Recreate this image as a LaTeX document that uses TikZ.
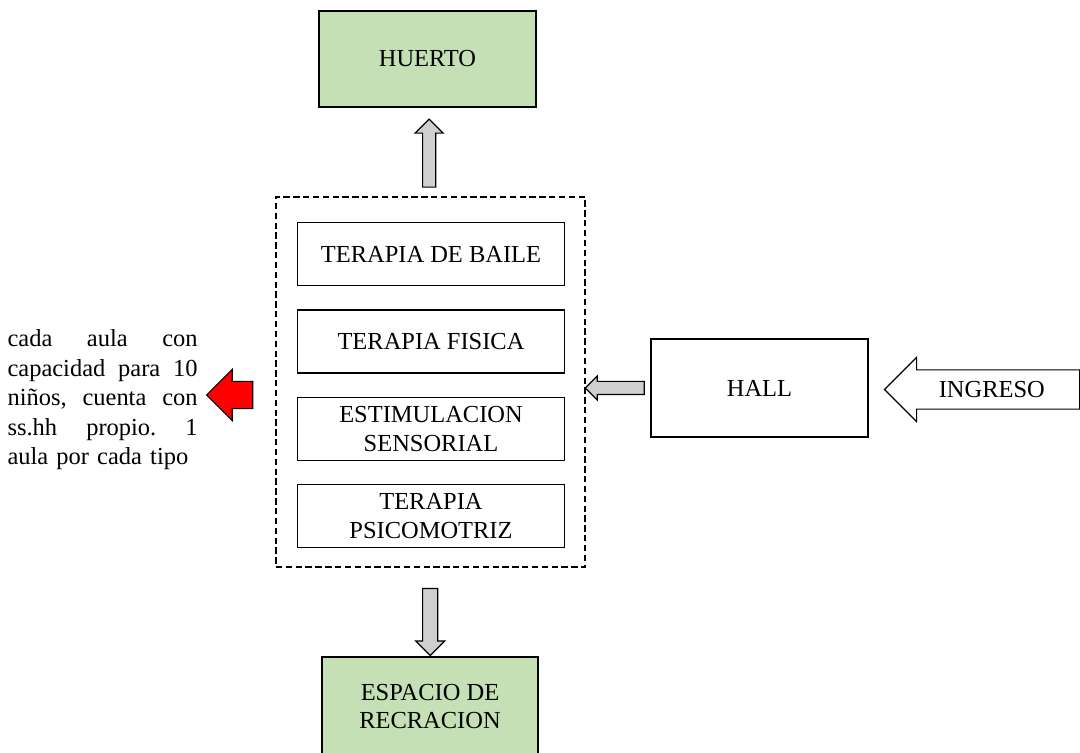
\documentclass[tikz,border=0pt]{standalone}
\usepackage{fontspec}
\setmainfont{Liberation Serif}
\usepackage{xcolor}
\usetikzlibrary{positioning, calc, shapes.arrows}
\definecolor{verde}{HTML}{C5E0B4}
\definecolor{gris}{HTML}{D0CECE}

\begin{document}
\begin{tikzpicture}[
  x=0.025cm, y=-0.025cm,
  node distance=0.575cm,
  zona/.style={draw, line width=1pt, align=center, minimum width=5.425cm, minimum height=2.4cm, fill=verde},
  aula/.style={draw, line width=1pt, align=center, minimum width=6.675cm, minimum height=1.575cm},
  flecha/.style={single arrow, draw, line width=0.8pt, fill=gris, inner sep=0.15cm, single arrow head extend=0.19cm},
  font=\fontsize{17.4}{20.5}\selectfont
]
\useasboundingbox (0,0) rectangle (1080,753);
\node[zona] (huerto) at (427.5,59) {HUERTO};
\node[draw, line width=1pt, dash pattern=on 4.5pt off 2.5pt, minimum width=7.725cm, minimum height=9.25cm] (sala) at (430.5,382) {};
\node[aula] (baile) at (431,254) {TERAPIA DE BAILE};
\node[aula, below=of baile] (fisica) {TERAPIA FISICA};
\node[aula, below=of fisica] (sensorial) {ESTIMULACION\\SENSORIAL};
\node[aula, below=of sensorial] (psico) {TERAPIA\\PSICOMOTRIZ};
\node[draw, line width=1pt, minimum width=5.425cm, minimum height=2.45cm] (hall) at (759.5,388) {HALL};
\node[zona, minimum width=5.4cm, minimum height=2.475cm] (recreacion) at (430,706.5) {ESPACIO DE\\RECRACION};

% flechas de bloque
\node[flecha, shape border rotate=90, minimum height=1.7cm, single arrow head extend=0.1875cm] (subir) at ($(huerto.south)!0.55!(sala.north)$) {};
\node[flecha, shape border rotate=270, minimum height=1.675cm, inner sep=0.175cm, single arrow head extend=0.175cm] (bajar) at ($(sala.south)!0.57!(recreacion.north)$) {};
\node[flecha, shape border rotate=180, minimum height=1.475cm, single arrow head extend=0.1375cm] (entrar) at ($(sala.east |- hall.west)!0.5!(hall.west)$) {};
\node[flecha, shape border rotate=180, fill=white, minimum height=4.875cm, text height=0.4cm, text depth=0cm, inner ysep=0.275cm, inner xsep=0.2cm, single arrow head extend=0.3125cm, anchor=tip] (ingreso) at ($(hall.east)+(15,1.5)$) {INGRESO};
\node[flecha, fill=red, shape border rotate=180, minimum height=1.15cm, inner sep=0.325cm, single arrow head extend=0.3cm, anchor=tail] (aviso) at ($(sala.west)+(-22,13)$) {};

\node[anchor=east, inner sep=0, text width=4.75cm, align=left, font=\fontsize{17.4}{21}\selectfont] (nota) at ($(aviso.tip)+(-8,5)$)
  {cada\hfill aula\hfill con\\
   capacidad\hfill para\hfill 10\\
   niños,\hfill cuenta\hfill con\\
   ss.hh\hfill propio.\hfill 1\\
   aula por cada tipo};
\end{tikzpicture}
\end{document}
